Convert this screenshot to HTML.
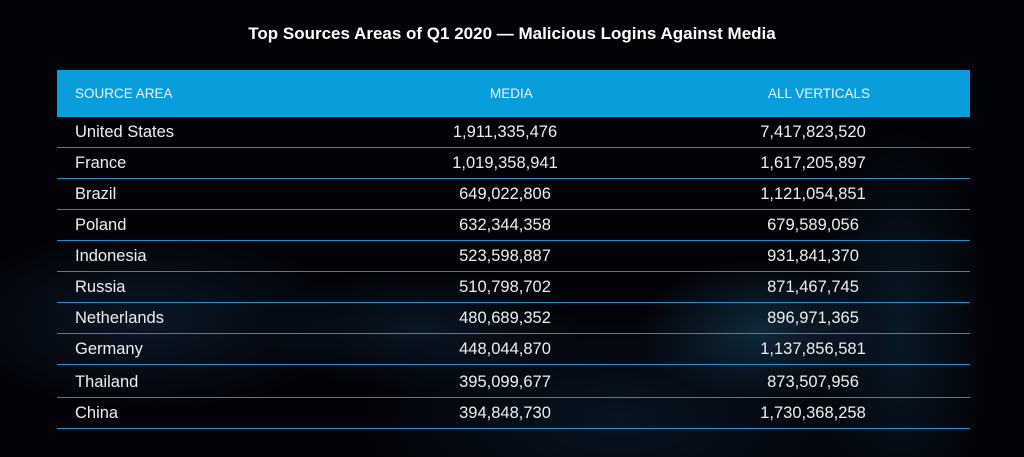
<!DOCTYPE html>
<html><head><meta charset="utf-8"><style>
html,body{margin:0;padding:0}
body{width:1024px;height:457px;overflow:hidden;position:relative;font-family:"Liberation Sans",sans-serif;
background:
radial-gradient(ellipse 120px 70px at 760px 330px,rgba(40,110,150,.35),transparent),
radial-gradient(ellipse 160px 60px at 420px 330px,rgba(30,80,120,.25),transparent),
radial-gradient(ellipse 200px 90px at 150px 320px,rgba(30,70,110,.3),transparent),
radial-gradient(ellipse 260px 110px at 620px 420px,rgba(25,70,110,.25),transparent),
radial-gradient(ellipse 90px 200px at 900px 330px,rgba(30,90,130,.25),transparent),
#020308;}
.t{position:absolute;top:24px;left:0;width:1024px;text-align:center;color:#fff;font-weight:bold;font-size:17px}
.h{position:absolute;left:57px;top:70px;width:913px;height:47px;background:#0a9ddb}
.h span{position:absolute;top:16px;color:#e8f6ff;font-size:13.5px}
.r{position:absolute;left:57px;width:913px;border-bottom:1px solid #1b8fcc;color:#eee;font-size:16.5px}
.r span{position:absolute;bottom:5px}
.c1{left:18px}.c2{left:448px;width:0;display:flex;justify-content:center}.c3{left:756px;width:0;display:flex;justify-content:center}
.c2 b,.c3 b{font-weight:normal;white-space:nowrap}
</style></head><body>
<div class="t">Top Sources Areas of Q1 2020 — Malicious Logins Against Media</div>
<div class="h"><span style="left:18px">SOURCE AREA</span><span style="left:433px">MEDIA</span><span style="left:711px">ALL VERTICALS</span></div>
<div class="r" style="top:117px;height:30px"><span class="c1">United States</span><span class="c2"><b>1,911,335,476</b></span><span class="c3"><b>7,417,823,520</b></span></div>
<div class="r" style="top:148px;height:30px"><span class="c1">France</span><span class="c2"><b>1,019,358,941</b></span><span class="c3"><b>1,617,205,897</b></span></div>
<div class="r" style="top:179px;height:30px"><span class="c1">Brazil</span><span class="c2"><b>649,022,806</b></span><span class="c3"><b>1,121,054,851</b></span></div>
<div class="r" style="top:210px;height:30px"><span class="c1">Poland</span><span class="c2"><b>632,344,358</b></span><span class="c3"><b>679,589,056</b></span></div>
<div class="r" style="top:241px;height:30px"><span class="c1">Indonesia</span><span class="c2"><b>523,598,887</b></span><span class="c3"><b>931,841,370</b></span></div>
<div class="r" style="top:272px;height:30px"><span class="c1">Russia</span><span class="c2"><b>510,798,702</b></span><span class="c3"><b>871,467,745</b></span></div>
<div class="r" style="top:303px;height:30px"><span class="c1">Netherlands</span><span class="c2"><b>480,689,352</b></span><span class="c3"><b>896,971,365</b></span></div>
<div class="r" style="top:334px;height:30px"><span class="c1">Germany</span><span class="c2"><b>448,044,870</b></span><span class="c3"><b>1,137,856,581</b></span></div>
<div class="r" style="top:365px;height:32px"><span class="c1">Thailand</span><span class="c2"><b>395,099,677</b></span><span class="c3"><b>873,507,956</b></span></div>
<div class="r" style="top:398px;height:30px"><span class="c1">China</span><span class="c2"><b>394,848,730</b></span><span class="c3"><b>1,730,368,258</b></span></div>
</body></html>
